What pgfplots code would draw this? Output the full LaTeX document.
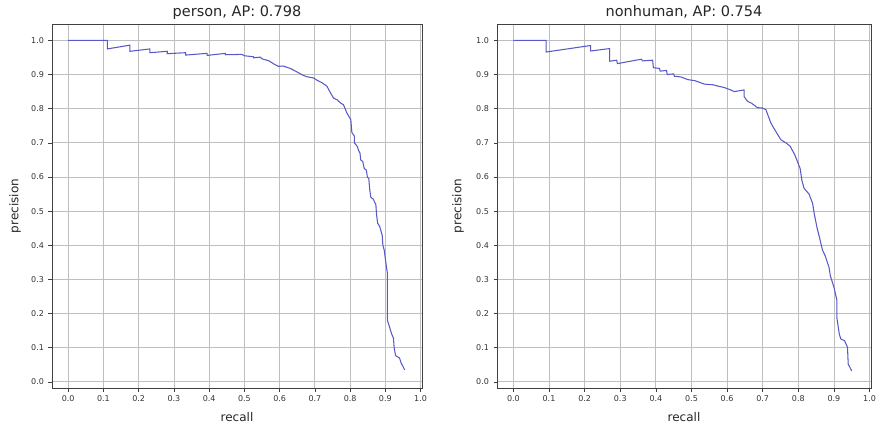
\documentclass[border=0pt]{standalone}
\usepackage{fontspec}
\setmainfont{DejaVu Sans}
\usepackage{pgfplots}
\pgfplotsset{compat=1.18}
\definecolor{prline}{RGB}{88,88,200}
\definecolor{gridgray}{RGB}{190,190,190}
\pgfplotsset{
  every axis title/.style={at={(0.5,1)}, anchor=base, yshift=7pt},
  prstyle/.style={
    scale only axis,
    xmin=-0.046, xmax=1.004,
    ymin=-0.018, ymax=1.048,
    xtick={0,0.1,...,1.0},
    ytick={0,0.1,...,1.0},
    xtick pos=left, ytick pos=left,
    tick align=outside,
    major tick length=3.5pt,
    tick style={black!75, line width=0.6pt},
    grid=major,
    major grid style={gridgray, line width=0.8pt},
    axis line style={black!75, line width=0.7pt},
    /pgf/number format/assume math mode=true,
    /pgf/number format/fixed,
    /pgf/number format/fixed zerofill,
    /pgf/number format/precision=1,
    tick label style={font=\fontsize{8}{9.6}\selectfont, text=black!80},
    xticklabel style={yshift=-1pt},
    yticklabel style={xshift=-1pt},
    label style={font=\fontsize{12}{14}\selectfont, text=black!85},
    title style={font=\fontsize{14.5}{17}\selectfont, text=black!85},
    xlabel style={at={(axis description cs:0.5,-0.08)}, anchor=center},
    xlabel={recall},
    ylabel={precision},
  }
}
\begin{document}
\begin{tikzpicture}
\path[use as bounding box] (0,0) rectangle (876pt,429pt);
\begin{axis}[prstyle,
  at={(52pt,41pt)}, anchor=south west,
  width=370pt, height=364pt,
  ylabel style={at={(axis description cs:-0.1,0.5)}, anchor=center},
  title={person, AP: 0.798}]
\addplot[prline, line width=1.05pt] coordinates {
(0,1.0) (0.111,1.0) (0.111,0.975) (0.175,0.986) (0.175,0.968) (0.232,0.975)
(0.232,0.964) (0.281,0.968) (0.281,0.961) (0.333,0.964) (0.333,0.957)
(0.394,0.962) (0.394,0.956) (0.446,0.962) (0.446,0.958) (0.493,0.959)
(0.50,0.955) (0.526,0.952) (0.526,0.949) (0.545,0.951) (0.55,0.946)
(0.57,0.94) (0.585,0.93) (0.597,0.924) (0.61,0.925) (0.63,0.918)
(0.645,0.91) (0.668,0.897) (0.68,0.893) (0.696,0.890) (0.705,0.884)
(0.72,0.876) (0.734,0.866) (0.745,0.845) (0.753,0.831) (0.763,0.826)
(0.775,0.815) (0.781,0.812) (0.791,0.787) (0.802,0.768) (0.805,0.73)
(0.812,0.72) (0.812,0.70) (0.82,0.69) (0.824,0.678) (0.828,0.67)
(0.83,0.65) (0.836,0.645) (0.84,0.625) (0.846,0.62) (0.849,0.60)
(0.853,0.595) (0.856,0.56) (0.859,0.54) (0.866,0.535) (0.87,0.525)
(0.873,0.52) (0.875,0.49) (0.878,0.465) (0.884,0.455) (0.888,0.44)
(0.891,0.43) (0.893,0.40) (0.897,0.385) (0.90,0.36) (0.904,0.33)
(0.906,0.317) (0.906,0.18) (0.912,0.16) (0.918,0.14) (0.923,0.128)
(0.925,0.10) (0.929,0.077) (0.94,0.07) (0.945,0.055) (0.95,0.045) (0.955,0.035)
};
\end{axis}
\begin{axis}[prstyle,
  at={(497pt,41pt)}, anchor=south west,
  width=374pt, height=364pt,
  ylabel style={at={(axis description cs:-0.104,0.5)}, anchor=center},
  title={nonhuman, AP: 0.754}]
\addplot[prline, line width=1.05pt] coordinates {
(0,1.0) (0.092,1.0) (0.092,0.966) (0.217,0.985) (0.217,0.969) (0.270,0.976)
(0.270,0.939) (0.290,0.942) (0.292,0.932) (0.36,0.945) (0.362,0.94)
(0.391,0.942) (0.393,0.92) (0.41,0.918) (0.412,0.91) (0.43,0.912)
(0.432,0.90) (0.45,0.902) (0.452,0.895) (0.47,0.893) (0.49,0.885)
(0.51,0.882) (0.536,0.872) (0.56,0.87) (0.575,0.866) (0.592,0.862)
(0.61,0.855) (0.62,0.85) (0.648,0.855) (0.648,0.835) (0.657,0.822)
(0.67,0.815) (0.685,0.803) (0.699,0.802) (0.709,0.797) (0.715,0.78)
(0.723,0.758) (0.73,0.745) (0.751,0.709) (0.765,0.700) (0.777,0.690)
(0.79,0.665) (0.805,0.625) (0.81,0.59) (0.816,0.567) (0.83,0.55)
(0.84,0.523) (0.845,0.49) (0.853,0.449) (0.86,0.42) (0.868,0.385)
(0.875,0.37) (0.886,0.336) (0.89,0.31) (0.9,0.277) (0.908,0.24)
(0.908,0.189) (0.915,0.14) (0.919,0.126) (0.93,0.12) (0.938,0.101)
(0.94,0.052) (0.95,0.032)
};
\end{axis}
\end{tikzpicture}
\end{document}
